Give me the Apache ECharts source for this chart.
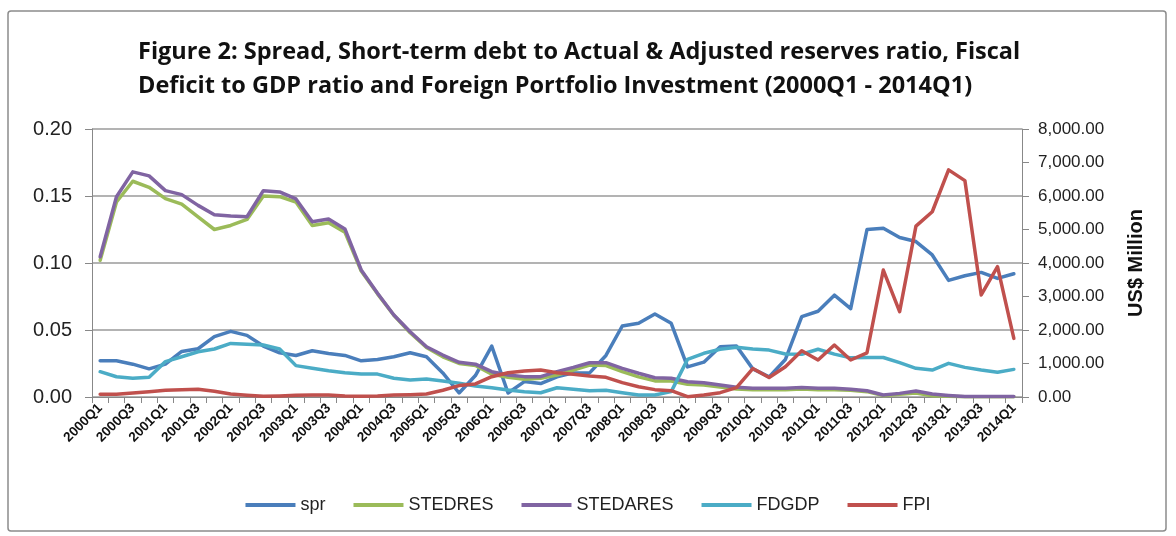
<!DOCTYPE html>
<html>
<head>
    <meta charset="utf-8"/>
    <style type="text/css">
        body, html {
            width: 100%;
            height: 100%;
            margin: 0;
            background: #fff;
        }
        #chart {
            width: 1176px;
            height: 536px;
        }
    </style>
    <script src="https://cdn.jsdelivr.net/npm/echarts@6/dist/echarts.min.js"></script>
    <title>Figure 2</title>
</head>
<body>
<div id="chart"></div>
<script type="text/javascript">
    var quarters = [
        '2000Q1', '2000Q2', '2000Q3', '2000Q4', '2001Q1', '2001Q2', '2001Q3', '2001Q4',
        '2002Q1', '2002Q2', '2002Q3', '2002Q4', '2003Q1', '2003Q2', '2003Q3', '2003Q4',
        '2004Q1', '2004Q2', '2004Q3', '2004Q4', '2005Q1', '2005Q2', '2005Q3', '2005Q4',
        '2006Q1', '2006Q2', '2006Q3', '2006Q4', '2007Q1', '2007Q2', '2007Q3', '2007Q4',
        '2008Q1', '2008Q2', '2008Q3', '2008Q4', '2009Q1', '2009Q2', '2009Q3', '2009Q4',
        '2010Q1', '2010Q2', '2010Q3', '2010Q4', '2011Q1', '2011Q2', '2011Q3', '2011Q4',
        '2012Q1', '2012Q2', '2012Q3', '2012Q4', '2013Q1', '2013Q2', '2013Q3', '2013Q4',
        '2014Q1'
    ];

    // left axis (ratios)
    var spr = [
        0.027, 0.027, 0.0245, 0.021, 0.0245, 0.034, 0.036, 0.045, 0.049, 0.046,
        0.038, 0.033, 0.031, 0.0345, 0.0325, 0.031, 0.027, 0.028, 0.030, 0.033,
        0.030, 0.018, 0.003, 0.016, 0.038, 0.003, 0.0115, 0.010, 0.015, 0.018,
        0.018, 0.031, 0.053, 0.055, 0.062, 0.055, 0.0225, 0.026, 0.0375, 0.038,
        0.021, 0.015, 0.028, 0.060, 0.064, 0.076, 0.066, 0.125, 0.126, 0.119,
        0.116, 0.106, 0.087, 0.0905, 0.093, 0.0885, 0.092
    ];
    var stedres = [
        0.102, 0.1455, 0.161, 0.1565, 0.148, 0.144, 0.1345, 0.125, 0.128, 0.1325,
        0.150, 0.1495, 0.1455, 0.128, 0.130, 0.123, 0.094, 0.077, 0.061, 0.048,
        0.037, 0.030, 0.025, 0.0235, 0.017, 0.0147, 0.0132, 0.014, 0.0164, 0.020,
        0.0239, 0.0235, 0.019, 0.015, 0.012, 0.012, 0.0095, 0.009, 0.0075, 0.006,
        0.0055, 0.0055, 0.0055, 0.006, 0.0055, 0.0055, 0.005, 0.004, 0.001, 0.002,
        0.003, 0.001, 0.0005, 0.0002, 0.0002, 0.0002, 0.0002
    ];
    var stedares = [
        0.1047, 0.1495, 0.168, 0.165, 0.154, 0.151, 0.143, 0.136, 0.135, 0.1345,
        0.154, 0.153, 0.1478, 0.1308, 0.1328, 0.1254, 0.0948, 0.0774, 0.0612, 0.0487,
        0.0375, 0.0313, 0.0259, 0.0245, 0.0189, 0.0164, 0.0152, 0.0152, 0.0189, 0.0221,
        0.0256, 0.0256, 0.0214, 0.0177, 0.0144, 0.014, 0.0114, 0.0107, 0.009, 0.0072,
        0.0065, 0.0065, 0.0065, 0.007, 0.0065, 0.0065, 0.0058, 0.0047, 0.0015, 0.0027,
        0.0045, 0.0022, 0.0012, 0.0004, 0.0003, 0.0003, 0.0003
    ];
    var fdgdp = [
        0.0189, 0.0151, 0.014, 0.0147, 0.0264, 0.030, 0.0338, 0.0358, 0.040, 0.0393,
        0.0388, 0.0358, 0.0234, 0.0214, 0.0196, 0.0181, 0.0172, 0.0171, 0.014, 0.0127,
        0.0134, 0.0119, 0.0102, 0.0082, 0.0069, 0.0052, 0.004, 0.0032, 0.0069, 0.0057,
        0.0047, 0.005, 0.0032, 0.0015, 0.0015, 0.004, 0.0281, 0.0326, 0.0356, 0.0371,
        0.0358, 0.035, 0.0321, 0.0319, 0.0356, 0.032, 0.0292, 0.0295, 0.0295, 0.0256,
        0.0214, 0.0201, 0.0251, 0.0221, 0.0201, 0.0184, 0.0206
    ];
    // right axis (US$ Million)
    var fpi = [
        80, 80, 120, 160, 200, 220, 230, 170, 90, 50,
        20, 30, 50, 60, 60, 30, 20, 30, 60, 70,
        90, 200, 340, 390, 606, 726, 776, 806, 726, 677,
        627, 588, 428, 308, 220, 190, 10, 60, 130, 280,
        850, 580, 905, 1380, 1105, 1550, 1105, 1320, 3790, 2550,
        5100, 5530, 6780, 6460, 3045, 3890, 1750
    ];

    var leftTicks = [0, 0.20, 0.05];
    var rightTicks = [0, 8000, 1000];

    var font = 'Liberation Sans';

    function line(name, data, color, axis) {
        return {
            name: name,
            type: 'line',
            yAxisIndex: axis,
            data: data,
            symbol: 'none',
            lineStyle: {color: color, width: 3.5, join: 'round', cap: 'round'},
            itemStyle: {color: color}
        };
    }

    var myChart = echarts.init(document.getElementById('chart'));
    var option = {
        animation: false,
        textStyle: {fontFamily: font},
        title: {
            text: 'Figure 2: Spread, Short-term debt to Actual & Adjusted reserves ratio, Fiscal\nDeficit to GDP ratio and Foreign Portfolio Investment (2000Q1 - 2014Q1)',
            left: 133,
            top: 30,
            textStyle: {fontFamily: 'Open Sans', fontSize: 23.5, fontWeight: 'bold', color: '#111', lineHeight: 34}
        },
        graphic: [{
            type: 'rect',
            shape: {x: 8, y: 11, width: 1158, height: 520, r: 3},
            style: {fill: 'none', stroke: '#8c8c8c', lineWidth: 1.5},
            silent: true
        }],
        grid: {left: 92, right: 154, top: 129, bottom: 139},
        legend: {
            top: 491,
            left: 'center',
            itemWidth: 50,
            itemHeight: 4,
            itemGap: 28,
            icon: 'rect',
            textStyle: {fontFamily: font, fontSize: 18, color: '#222'},
            data: ['spr', 'STEDRES', 'STEDARES', 'FDGDP', 'FPI']
        },
        xAxis: {
            type: 'category',
            data: quarters,
            boundaryGap: true,
            axisLine: {lineStyle: {color: '#888', width: 1}},
            axisTick: {show: true, interval: 0, length: 6, lineStyle: {color: '#888'}},
            axisLabel: {
                interval: 1,
                rotate: 45,
                fontSize: 13.5,
                fontWeight: 'bold',
                color: '#111',
                margin: 9
            }
        },
        yAxis: [{
            type: 'value',
            min: leftTicks[0],
            max: leftTicks[1],
            interval: leftTicks[2],
            axisLine: {show: true, lineStyle: {color: '#888'}},
            axisTick: {show: true, length: 7, lineStyle: {color: '#888'}},
            axisLabel: {
                fontSize: 20,
                color: '#222',
                margin: 20,
                formatter: function (v) { return v.toFixed(2); }
            },
            splitLine: {lineStyle: {color: '#9a9a9a', width: 1.5}}
        }, {
            type: 'value',
            min: rightTicks[0],
            max: rightTicks[1],
            interval: rightTicks[2],
            name: 'US$ Million',
            nameLocation: 'middle',
            nameRotate: 90,
            nameGap: 104,
            nameTextStyle: {fontFamily: font, fontSize: 20, fontWeight: 'bold', color: '#111'},
            axisLine: {show: true, lineStyle: {color: '#888'}},
            axisTick: {show: true, length: 7, lineStyle: {color: '#888'}},
            axisLabel: {
                fontSize: 17,
                color: '#222',
                margin: 16,
                formatter: function (v) {
                    return v.toLocaleString('en-US', {minimumFractionDigits: 2, maximumFractionDigits: 2});
                }
            },
            splitLine: {show: false}
        }],
        series: [
            line('spr', spr, '#4a7ebb', 0),
            line('STEDRES', stedres, '#9bbb59', 0),
            line('STEDARES', stedares, '#8064a2', 0),
            line('FDGDP', fdgdp, '#4bacc6', 0),
            line('FPI', fpi, '#c0504d', 1)
        ]
    };
    myChart.setOption(option);
</script>
</body>
</html>
